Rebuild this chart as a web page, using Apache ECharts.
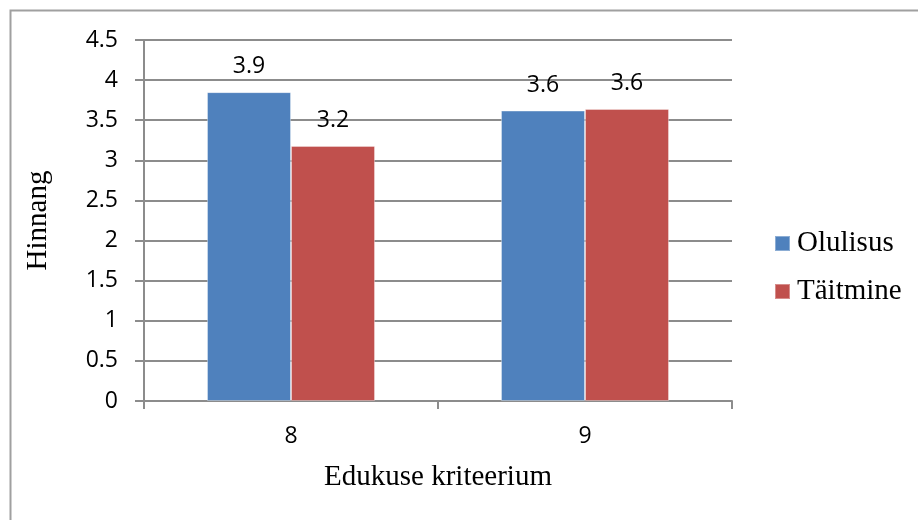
<!DOCTYPE html>
<html>
<head>
<meta charset="utf-8">
<script src="https://cdn.jsdelivr.net/npm/echarts@6/dist/echarts.min.js"></script>
<style>
  html, body { margin: 0; padding: 0; background: #fff; }
  #chart { width: 918px; height: 520px; }
</style>
</head>
<body>
<div id="chart"></div>
<script>
// Edukuse kriteeriumid 8 ja 9: olulisuse ja täitmise hinnangud
const categories = ['8', '9'];
const olulisus = [3.85, 3.62];
const taitmine = [3.18, 3.64];
const yTicks = { min: 0, max: 4.5, step: 0.5 };

const sansFont = '"Open Sans", "Liberation Sans", sans-serif';
const serifFont = '"Liberation Serif", "DejaVu Serif", serif';
const gridGray = '#8c8c8c';

const chart = echarts.init(document.getElementById('chart'), null, { renderer: 'canvas' });

const barLabel = {
  show: true,
  position: 'top',
  distance: 14,
  color: '#000',
  fontFamily: sansFont,
  fontSize: 23,
  formatter: p => p.value.toFixed(1)
};

chart.setOption({
  animation: false,
  backgroundColor: '#fff',
  graphic: [{
    type: 'rect',
    shape: { x: 10.5, y: 10.5, width: 1000, height: 1000 },
    style: { fill: 'none', stroke: '#a0a0a0', lineWidth: 2 },
    silent: true
  }],
  grid: { left: 144, right: 186, top: 40, bottom: 119 },
  legend: {
    orient: 'vertical',
    left: 774,
    top: 229,
    padding: 0,
    itemWidth: 15,
    itemHeight: 15,
    itemGap: 19,
    icon: 'rect',
    textStyle: {
      fontFamily: serifFont,
      fontSize: 29,
      color: '#000',
      padding: [0, 0, 0, 2]
    },
    data: ['Olulisus', 'Täitmine']
  },
  xAxis: {
    type: 'category',
    data: categories,
    name: 'Edukuse kriteerium',
    nameLocation: 'middle',
    nameGap: 62,
    nameTextStyle: { fontFamily: serifFont, fontSize: 29, color: '#000' },
    axisLine: { lineStyle: { color: gridGray, width: 2 } },
    axisTick: { show: true, length: 8, alignWithLabel: false, lineStyle: { color: gridGray, width: 2 } },
    axisLabel: { margin: 24, color: '#000', fontFamily: sansFont, fontSize: 23 }
  },
  yAxis: {
    type: 'value',
    min: yTicks.min,
    max: yTicks.max,
    interval: yTicks.step,
    name: 'Hinnang',
    nameLocation: 'middle',
    nameGap: 91,
    nameTextStyle: { fontFamily: serifFont, fontSize: 29, color: '#000' },
    axisLine: { show: true, lineStyle: { color: gridGray, width: 2 } },
    axisTick: { show: true, length: 9, lineStyle: { color: gridGray, width: 2 } },
    axisLabel: { margin: 26, color: '#000', fontFamily: sansFont, fontSize: 23 },
    splitLine: { show: true, lineStyle: { color: gridGray, width: 2 } }
  },
  series: [
    {
      name: 'Olulisus',
      type: 'bar',
      data: olulisus,
      barWidth: 84,
      barGap: '0%',
      itemStyle: { color: '#4F81BD', borderColor: 'rgba(255,255,255,0.35)', borderWidth: 1 },
      label: barLabel
    },
    {
      name: 'Täitmine',
      type: 'bar',
      data: taitmine,
      barWidth: 84,
      barGap: '0%',
      itemStyle: { color: '#C0504D', borderColor: 'rgba(255,255,255,0.35)', borderWidth: 1 },
      label: barLabel
    }
  ]
});
</script>
</body>
</html>
